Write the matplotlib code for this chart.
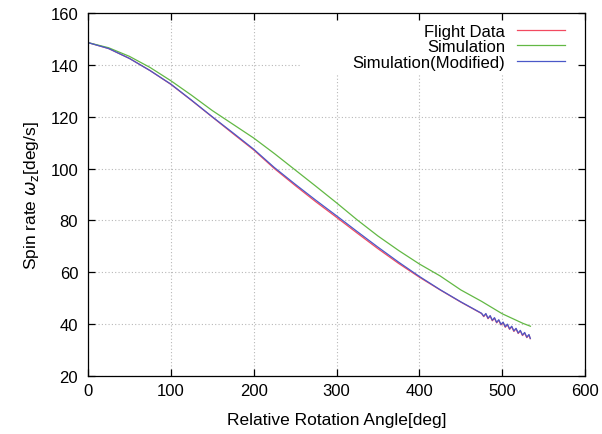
import matplotlib
matplotlib.use("Agg")
import matplotlib.pyplot as plt
from matplotlib.patches import Rectangle

angle = [0, 25, 50, 75, 100, 125, 150, 175, 200, 225, 250, 275, 300, 325,
         350, 375, 400, 425, 450, 475]
flight = [148.6, 146.3, 142.5, 137.8, 132.5, 126.3, 119.9, 113.5, 107.2, 100.0,
          93.5, 87.2, 81.2, 75.1, 69.1, 63.4, 58.1, 53.2, 48.5, 44.1]
modified = [148.6, 146.3, 142.5, 137.8, 132.6, 126.4, 120.0, 113.8, 107.5, 100.4,
            94.0, 87.8, 81.8, 75.7, 69.7, 63.9, 58.4, 53.3, 48.6, 44.2]

# wobbling tail of flight data / modified simulation
tail_angle = [477.6, 480.2, 482.8, 485.4, 488.0, 490.6, 493.2, 495.8, 498.4, 501.0,
              503.6, 506.2, 508.8, 511.4, 514.0, 516.6, 519.2, 521.8, 524.4, 527.0,
              529.6, 532.2, 533.8]
flight_tail = [42.9, 43.9, 42.1, 43.1, 41.3, 42.3, 40.5, 41.5, 39.7, 40.6,
               38.8, 39.8, 38.0, 39.0, 37.2, 38.2, 36.4, 37.4, 35.6, 36.6,
               34.8, 35.8, 34.4]
modified_tail = [43.1, 44.1, 42.3, 43.3, 41.5, 42.5, 40.7, 41.7, 39.9, 40.8,
                 39.0, 40.0, 38.2, 39.2, 37.4, 38.4, 36.6, 37.6, 35.8, 36.8,
                 35.0, 36.0, 34.5]

sim_angle = [0, 25, 50, 75, 100, 125, 150, 175, 200, 225, 250, 275, 300, 325,
             350, 375, 400, 425, 450, 475, 500, 525, 534]
simulation = [148.6, 146.6, 143.3, 139.0, 133.9, 128.3, 122.4, 117.1, 111.8, 105.8,
              99.5, 93.2, 86.8, 80.2, 74.0, 68.4, 63.2, 58.6, 53.2, 48.8,
              44.0, 40.3, 39.2]

plt.rcParams['font.family'] = ['Liberation Sans', 'DejaVu Sans']
plt.rcParams['mathtext.fontset'] = 'dejavusans'
plt.rcParams['font.size'] = 12

fig = plt.figure(figsize=(6.02, 4.35), dpi=100)
pos = [0.146, 0.1333, 0.826, 0.8345]

# grid lives in its own axes underneath so the key box can hide it
gax = fig.add_axes(pos, zorder=0)
ax = fig.add_axes(pos, zorder=1)
for a in (gax, ax):
    a.set_xlim(0, 600)
    a.set_ylim(20, 160)
    a.set_xticks(range(0, 601, 100))
    a.set_yticks(range(20, 161, 20))
gax.grid(True, ls=(0, (1, 2)), color='#b8b8b8', lw=0.8)
gax.tick_params(length=0, labelbottom=False, labelleft=False)
for s in gax.spines.values():
    s.set_visible(False)
ax.patch.set_visible(False)
ax.add_patch(Rectangle((0.4266, 0.832), 0.6, 0.2, transform=ax.transAxes,
                       facecolor='white', edgecolor='none', zorder=0.5))

red, green, blue = '#f24a60', '#62b844', '#4a58c8'
ax.plot(angle + tail_angle, flight + flight_tail, color=red, lw=0.9, label='Flight Data')
ax.plot(sim_angle, simulation, color=green, lw=0.9, label='Simulation')
ax.plot(angle + tail_angle, modified + modified_tail, color=blue, lw=0.9,
        label='Simulation(Modified)')

ax.tick_params(direction='in', length=5, width=0.9, top=True, right=True)
ax.tick_params(axis='x', pad=5)
ax.tick_params(axis='y', pad=7)
for s in ax.spines.values():
    s.set_linewidth(0.9)

ax.set_xlabel('Relative Rotation Angle[deg]', fontsize=12.5, labelpad=10)
ax.set_ylabel(r'Spin rate $\omega_{\mathrm{z}}$[deg/s]', fontsize=12.5, labelpad=7)

# markerfirst=False already right-aligns the rows like the gnuplot key
ax.legend(loc='upper right', bbox_to_anchor=(0.960, 0.970), frameon=False,
          markerfirst=False, handlelength=2.9, handletextpad=0.7,
          labelspacing=0.02, borderpad=0, borderaxespad=0)

fig.savefig('out.png', dpi=100)
